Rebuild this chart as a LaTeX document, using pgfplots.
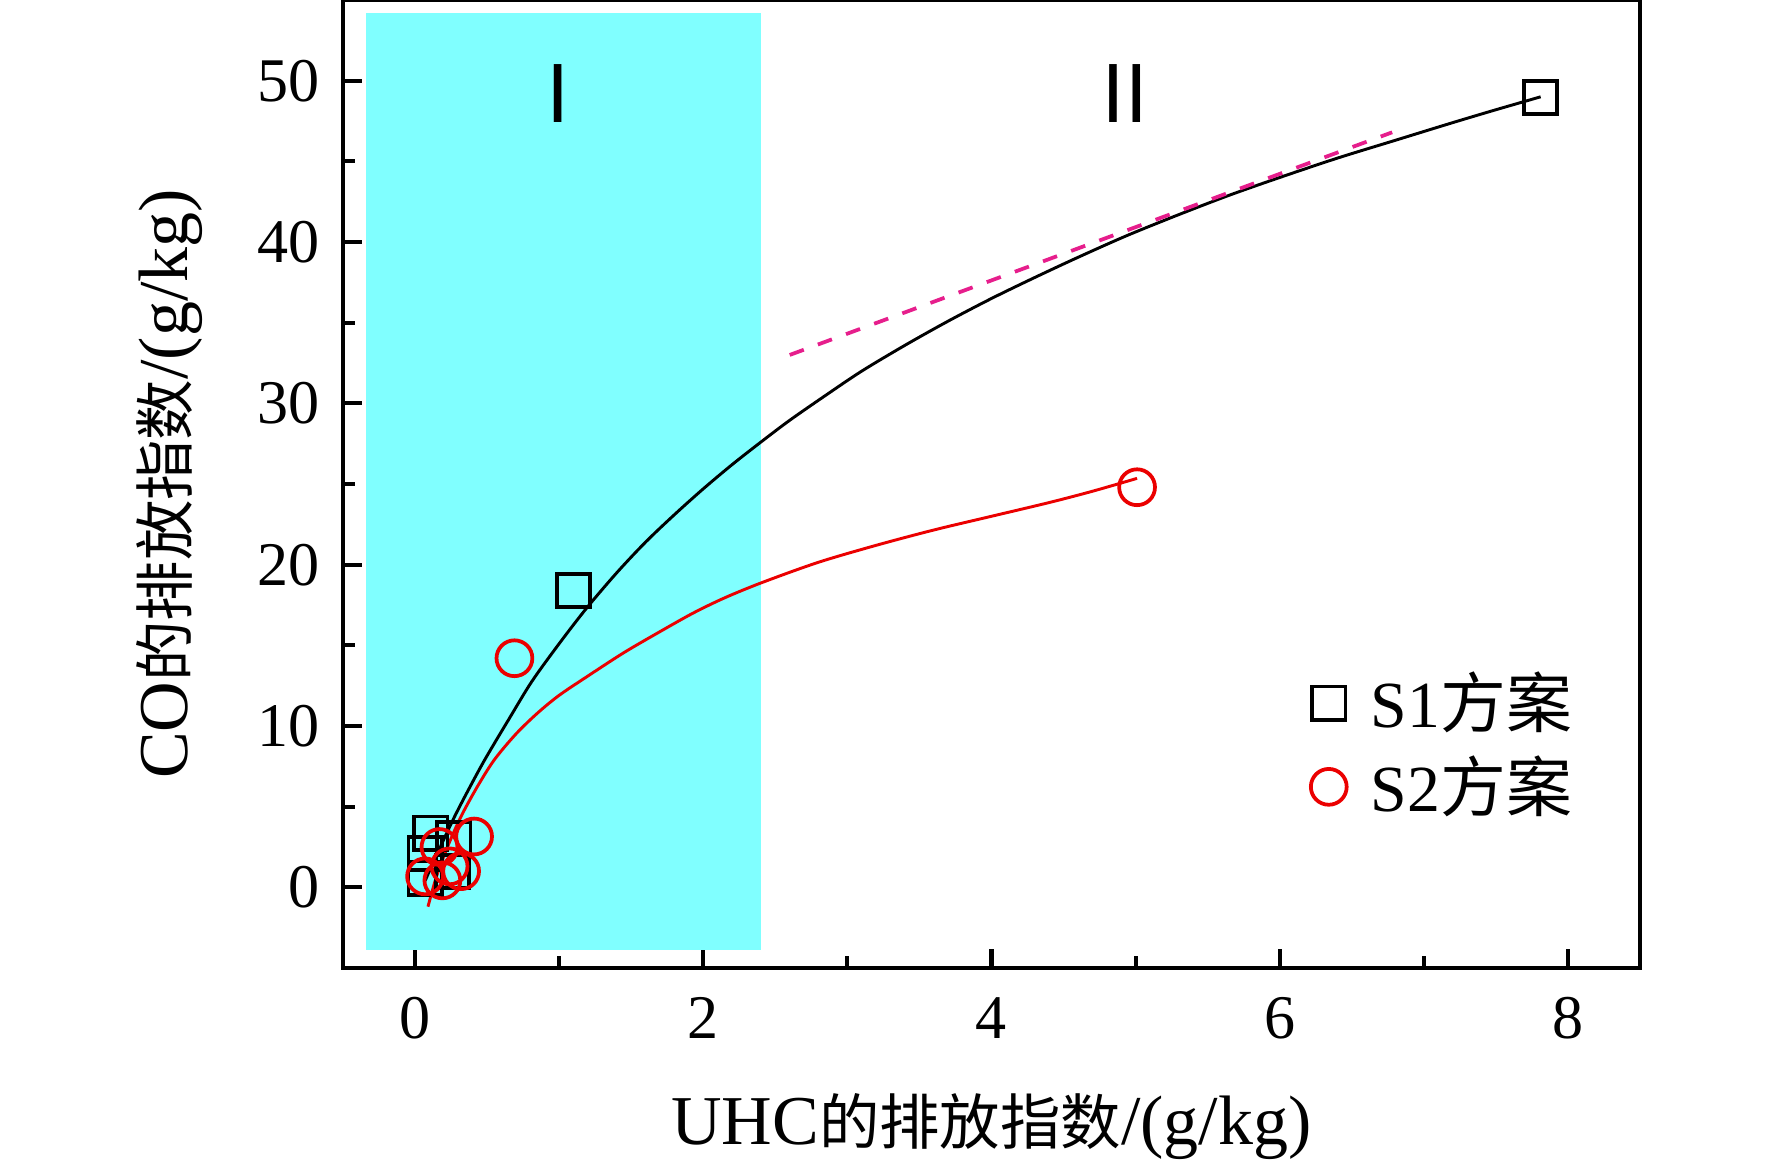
\documentclass[border=0pt]{standalone}
\usepackage{fontspec}
\setmainfont{Liberation Serif}
\newfontfamily\cjk{Noto Sans CJK SC}
\usepackage{pgfplots}
\pgfplotsset{compat=1.18}
\definecolor{regionI}{RGB}{128,255,255}
\definecolor{fitpink}{RGB}{230,30,140}
\definecolor{sred}{RGB}{235,0,0}
\begin{document}
\begin{tikzpicture}
\begin{axis}[
  scale only axis, width=311.3pt, height=232.3pt,
  xmin=-0.5, xmax=8.5, ymin=-5, ymax=55,
  axis line style={line width=1pt},
  tick align=inside, xtick pos=bottom, ytick pos=left,
  major tick length=4.6pt, minor tick length=2.9pt,
  every tick/.style={black, line width=1pt},
  xtick={0,2,4,6,8}, minor xtick={1,3,5,7},
  ytick={0,10,20,30,40,50}, minor ytick={5,15,25,35,45},
  /pgf/number format/assume math mode=true,
  ticklabel style={font=\fontsize{14.9}{15}\selectfont},
  xticklabel style={yshift=-3.5pt},
  yticklabel style={xshift=-2pt},
  xlabel={\fontsize{16.8}{17}\selectfont UHC{\cjk\fontsize{14.5}{15}\selectfont 的排放指数}/(g/kg)},
  ylabel={\fontsize{16.8}{17}\selectfont CO{\cjk\fontsize{14.5}{15}\selectfont 的排放指数}/(g/kg)},
  xlabel style={at={(axis description cs:0.5,-0.1636)}, anchor=center},
  ylabel style={at={(axis description cs:-0.1333,0.5)}, anchor=center},
  legend style={draw=none, fill=none, inner sep=0pt, at={(axis cs:6.21,8.82)}, anchor=west,
    nodes={inner sep=2pt}, row sep=1.2pt,
    /tikz/every odd column/.append style={column sep=3.8pt},
    font=\fontsize{15.8}{16}\selectfont},
  legend cell align=left,
  clip=false,
]
% region I
\addplot[fill=regionI, draw=none, forget plot] coordinates {(-0.34,-3.9) (2.40,-3.9) (2.40,54.2) (-0.34,54.2)} --cycle;
% fitted curves
\addplot[black, line width=0.7pt, smooth, forget plot] coordinates {
(0.07,0.4) (0.15,2.0) (0.27,4.3) (0.38,6.2) (0.49,8.0) (0.65,10.4) (0.81,12.75)
(1.0,15.1) (1.19,17.3) (1.4,19.5) (1.6,21.4) (1.8,23.1) (2.0,24.7) (2.2,26.2)
(2.4,27.6) (2.6,28.95) (2.85,30.5) (3.1,32.0) (3.4,33.6) (3.7,35.1) (4.0,36.5)
(4.3,37.8) (4.6,39.05) (4.94,40.4) (5.3,41.7) (5.65,42.9) (6.0,44.0) (6.4,45.2)
(6.8,46.3) (7.2,47.4) (7.5,48.2) (7.81,49.0)};
\addplot[sred, line width=0.7pt, smooth, forget plot] coordinates {
(0.09,-1.2) (0.15,0.7) (0.23,2.6) (0.32,4.4) (0.43,6.2) (0.55,7.9) (0.7,9.5)
(0.85,10.8) (1.0,11.9) (1.2,13.1) (1.45,14.55) (1.7,15.85) (1.93,17.0) (2.15,17.95)
(2.41,18.9) (2.8,20.15) (3.2,21.2) (3.6,22.15) (4.0,23.0) (4.4,23.85) (4.7,24.55) (5.01,25.35)};
\addplot[fitpink, line width=0.9pt, dash pattern=on 3.6pt off 3.6pt, forget plot] coordinates {(2.60,33.0) (6.78,46.8)};
% data
\addplot[only marks, mark=square, mark size=4pt, mark options={black, line width=0.9pt}] coordinates {
(7.81,48.96) (1.10,18.4) (0.11,3.35) (0.27,3.0) (0.07,2.1) (0.07,0.56) (0.26,1.0)};
\addlegendentry{S1{\cjk 方案}}
\addplot[only marks, mark=o, mark size=4.3pt, mark options={sred, line width=0.9pt}] coordinates {
(5.01,24.8) (0.69,14.2) (0.41,3.15) (0.17,2.5) (0.07,0.68) (0.32,1.0) (0.19,0.43) (0.24,1.3)};
\addlegendentry{S2{\cjk 方案}}
\node at (axis cs:0.99,49.2) {\cjk\fontsize{19}{19}\selectfont Ⅰ};
\node at (axis cs:4.93,49.2) {\cjk\fontsize{19}{19}\selectfont Ⅱ};
\end{axis}
\pgfresetboundingbox
\path (-82.3pt,-47.28pt) rectangle (342.96pt,232.3pt);
\end{tikzpicture}
\end{document}
